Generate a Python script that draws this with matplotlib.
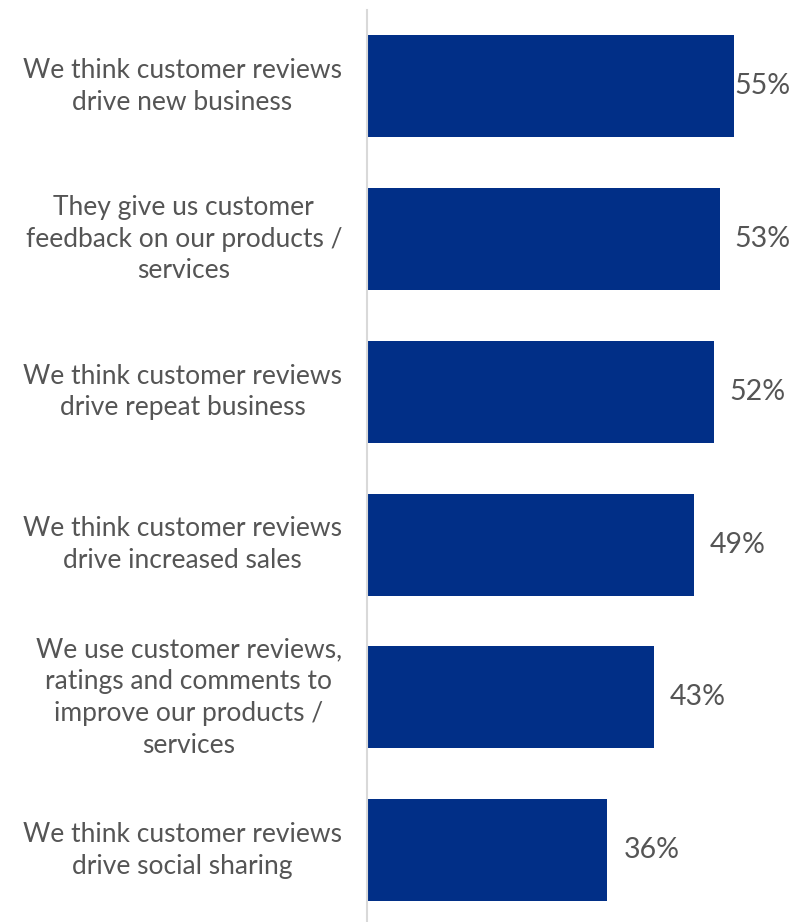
import matplotlib.pyplot as plt
from matplotlib.transforms import blended_transform_factory

labels = [
    "We think customer reviews\ndrive new business",
    "They give us customer\nfeedback on our products /\nservices",
    "We think customer reviews\ndrive repeat business",
    "We think customer reviews\ndrive increased sales",
    "We use customer reviews,\nratings and comments to\nimprove our products /\nservices",
    "We think customer reviews\ndrive social sharing",
]
values = [55, 53, 52, 49, 43, 36]

bar_color = "#012f87"
text_color = "#555555"
plt.rcParams['font.family'] = ['Lato', 'DejaVu Sans']

W, H = 792, 922
fig = plt.figure(figsize=(W / 100, H / 100), dpi=100)
ax = fig.add_axes([368 / W, 0, (W - 368) / W, 912 / H])

pos = list(range(len(values)))
ax.barh(pos, values, height=0.667, color=bar_color)
ax.set_xlim(0, (W - 368) / 6.65)
ax.set_ylim(5.47, -0.5)

for s in ['top', 'right', 'bottom']:
    ax.spines[s].set_visible(False)
ax.spines['left'].set_color('#d9d9d9')
ax.spines['left'].set_linewidth(1.5)
ax.spines['left'].set_position(('outward', 1))
ax.set_xticks([])
ax.set_yticks([])

# category labels, right aligned block with centered lines
tr = blended_transform_factory(fig.transFigure, ax.transData)
for i, lab in enumerate(labels):
    ax.text(342 / W, i, lab, transform=tr, ha='right', va='center',
            multialignment='center', fontsize=19, color=text_color,
            linespacing=1.34)

# value labels, pushed left if they would run off the edge
xmax = (790 - 368) / 6.65
for i, v in enumerate(values):
    if v + 2.4 + 8.6 > xmax:
        ax.text(xmax, i, f"{v}%", ha='right', va='center', fontsize=20.5,
                color=text_color)
    else:
        ax.text(v + 2.4, i, f"{v}%", ha='left', va='center', fontsize=20.5,
                color=text_color)

fig.savefig('out.png', dpi=100)
